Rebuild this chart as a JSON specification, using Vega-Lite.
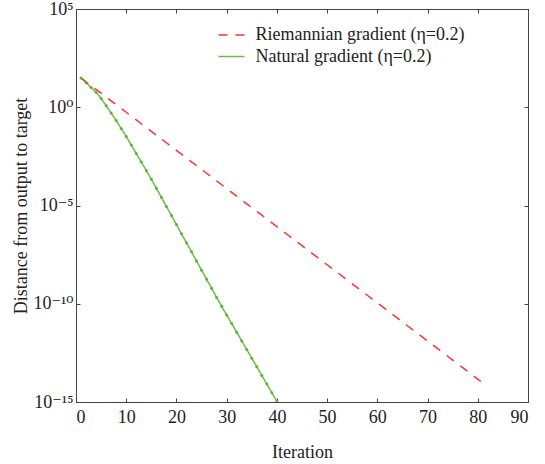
{
  "$schema": "https://vega.github.io/schema/vega-lite/v6.json",
  "width": 452,
  "height": 393,
  "autosize": {"type": "none"},
  "padding": {"left": 76, "top": 9, "right": 17, "bottom": 62},
  "background": "white",
  "config": {
    "font": "Liberation Serif, Times New Roman, DejaVu Serif, serif",
    "view": {"stroke": "#444444", "strokeWidth": 1},
    "axis": {
      "labelFont": "Liberation Serif, Times New Roman, DejaVu Serif, serif",
      "titleFont": "Liberation Serif, Times New Roman, DejaVu Serif, serif",
      "labelFontSize": 18,
      "titleFontSize": 18,
      "titleFontWeight": "normal",
      "labelColor": "#222222",
      "titleColor": "#222222",
      "domainColor": "#444444",
      "tickColor": "#444444",
      "grid": false,
      "tickSize": -4
    }
  },
  "datasets": {
    "curves": [
      {"method": "Natural", "iter": 1, "value": 30.9},
      {"method": "Natural", "iter": 2, "value": 17.8},
      {"method": "Natural", "iter": 3, "value": 10.2},
      {"method": "Natural", "iter": 4, "value": 5.75},
      {"method": "Natural", "iter": 5, "value": 2.82},
      {"method": "Natural", "iter": 6, "value": 1.2},
      {"method": "Natural", "iter": 7, "value": 0.513},
      {"method": "Natural", "iter": 8, "value": 0.209},
      {"method": "Natural", "iter": 9, "value": 0.0832},
      {"method": "Natural", "iter": 10, "value": 0.0324},
      {"method": "Natural", "iter": 11, "value": 0.012},
      {"method": "Natural", "iter": 12, "value": 4.37e-3},
      {"method": "Natural", "iter": 13, "value": 1.62e-3},
      {"method": "Natural", "iter": 14, "value": 6.03e-4},
      {"method": "Natural", "iter": 15, "value": 2.14e-4},
      {"method": "Natural", "iter": 16, "value": 7.59e-5},
      {"method": "Natural", "iter": 17, "value": 2.63e-5},
      {"method": "Natural", "iter": 18, "value": 8.91e-6},
      {"method": "Natural", "iter": 19, "value": 3.09e-6},
      {"method": "Natural", "iter": 20, "value": 1.07e-6},
      {"method": "Natural", "iter": 21, "value": 3.63e-7},
      {"method": "Natural", "iter": 22, "value": 1.26e-7},
      {"method": "Natural", "iter": 23, "value": 4.37e-8},
      {"method": "Natural", "iter": 24, "value": 1.48e-8},
      {"method": "Natural", "iter": 25, "value": 5.13e-9},
      {"method": "Natural", "iter": 26, "value": 1.78e-9},
      {"method": "Natural", "iter": 27, "value": 6.17e-10},
      {"method": "Natural", "iter": 28, "value": 2.09e-10},
      {"method": "Natural", "iter": 29, "value": 7.41e-11},
      {"method": "Natural", "iter": 30, "value": 2.69e-11},
      {"method": "Natural", "iter": 31, "value": 9.77e-12},
      {"method": "Natural", "iter": 32, "value": 3.55e-12},
      {"method": "Natural", "iter": 33, "value": 1.29e-12},
      {"method": "Natural", "iter": 34, "value": 4.68e-13},
      {"method": "Natural", "iter": 35, "value": 1.7e-13},
      {"method": "Natural", "iter": 36, "value": 6.17e-14},
      {"method": "Natural", "iter": 37, "value": 2.24e-14},
      {"method": "Natural", "iter": 38, "value": 8.13e-15},
      {"method": "Natural", "iter": 39, "value": 2.95e-15},
      {"method": "Natural", "iter": 40, "value": 1.07e-15},
      {"method": "Riemannian", "iter": 1, "value": 30.9},
      {"method": "Riemannian", "iter": 2, "value": 19.8},
      {"method": "Riemannian", "iter": 3, "value": 12.6},
      {"method": "Riemannian", "iter": 4, "value": 8.09},
      {"method": "Riemannian", "iter": 5, "value": 5.18},
      {"method": "Riemannian", "iter": 6, "value": 3.31},
      {"method": "Riemannian", "iter": 7, "value": 2.12},
      {"method": "Riemannian", "iter": 8, "value": 1.36},
      {"method": "Riemannian", "iter": 9, "value": 0.867},
      {"method": "Riemannian", "iter": 10, "value": 0.555},
      {"method": "Riemannian", "iter": 11, "value": 0.355},
      {"method": "Riemannian", "iter": 12, "value": 0.227},
      {"method": "Riemannian", "iter": 13, "value": 0.145},
      {"method": "Riemannian", "iter": 14, "value": 0.0929},
      {"method": "Riemannian", "iter": 15, "value": 0.0594},
      {"method": "Riemannian", "iter": 16, "value": 0.038},
      {"method": "Riemannian", "iter": 17, "value": 0.0243},
      {"method": "Riemannian", "iter": 18, "value": 0.0156},
      {"method": "Riemannian", "iter": 19, "value": 9.95e-3},
      {"method": "Riemannian", "iter": 20, "value": 6.37e-3},
      {"method": "Riemannian", "iter": 21, "value": 4.07e-3},
      {"method": "Riemannian", "iter": 22, "value": 2.61e-3},
      {"method": "Riemannian", "iter": 23, "value": 1.67e-3},
      {"method": "Riemannian", "iter": 24, "value": 1.07e-3},
      {"method": "Riemannian", "iter": 25, "value": 6.82e-4},
      {"method": "Riemannian", "iter": 26, "value": 4.37e-4},
      {"method": "Riemannian", "iter": 27, "value": 2.79e-4},
      {"method": "Riemannian", "iter": 28, "value": 1.79e-4},
      {"method": "Riemannian", "iter": 29, "value": 1.14e-4},
      {"method": "Riemannian", "iter": 30, "value": 7.31e-5},
      {"method": "Riemannian", "iter": 31, "value": 4.68e-5},
      {"method": "Riemannian", "iter": 32, "value": 2.99e-5},
      {"method": "Riemannian", "iter": 33, "value": 1.91e-5},
      {"method": "Riemannian", "iter": 34, "value": 1.22e-5},
      {"method": "Riemannian", "iter": 35, "value": 7.83e-6},
      {"method": "Riemannian", "iter": 36, "value": 5.01e-6},
      {"method": "Riemannian", "iter": 37, "value": 3.21e-6},
      {"method": "Riemannian", "iter": 38, "value": 2.05e-6},
      {"method": "Riemannian", "iter": 39, "value": 1.31e-6},
      {"method": "Riemannian", "iter": 40, "value": 8.39e-7},
      {"method": "Riemannian", "iter": 41, "value": 5.37e-7},
      {"method": "Riemannian", "iter": 42, "value": 3.44e-7},
      {"method": "Riemannian", "iter": 43, "value": 2.2e-7},
      {"method": "Riemannian", "iter": 44, "value": 1.41e-7},
      {"method": "Riemannian", "iter": 45, "value": 8.99e-8},
      {"method": "Riemannian", "iter": 46, "value": 5.75e-8},
      {"method": "Riemannian", "iter": 47, "value": 3.68e-8},
      {"method": "Riemannian", "iter": 48, "value": 2.36e-8},
      {"method": "Riemannian", "iter": 49, "value": 1.51e-8},
      {"method": "Riemannian", "iter": 50, "value": 9.64e-9},
      {"method": "Riemannian", "iter": 51, "value": 6.17e-9},
      {"method": "Riemannian", "iter": 52, "value": 3.94e-9},
      {"method": "Riemannian", "iter": 53, "value": 2.52e-9},
      {"method": "Riemannian", "iter": 54, "value": 1.61e-9},
      {"method": "Riemannian", "iter": 55, "value": 1.03e-9},
      {"method": "Riemannian", "iter": 56, "value": 6.61e-10},
      {"method": "Riemannian", "iter": 57, "value": 4.23e-10},
      {"method": "Riemannian", "iter": 58, "value": 2.7e-10},
      {"method": "Riemannian", "iter": 59, "value": 1.73e-10},
      {"method": "Riemannian", "iter": 60, "value": 1.11e-10},
      {"method": "Riemannian", "iter": 61, "value": 7.08e-11},
      {"method": "Riemannian", "iter": 62, "value": 4.53e-11},
      {"method": "Riemannian", "iter": 63, "value": 2.9e-11},
      {"method": "Riemannian", "iter": 64, "value": 1.85e-11},
      {"method": "Riemannian", "iter": 65, "value": 1.19e-11},
      {"method": "Riemannian", "iter": 66, "value": 7.59e-12},
      {"method": "Riemannian", "iter": 67, "value": 4.85e-12},
      {"method": "Riemannian", "iter": 68, "value": 3.1e-12},
      {"method": "Riemannian", "iter": 69, "value": 1.99e-12},
      {"method": "Riemannian", "iter": 70, "value": 1.27e-12},
      {"method": "Riemannian", "iter": 71, "value": 8.13e-13},
      {"method": "Riemannian", "iter": 72, "value": 5.2e-13},
      {"method": "Riemannian", "iter": 73, "value": 3.33e-13},
      {"method": "Riemannian", "iter": 74, "value": 2.13e-13},
      {"method": "Riemannian", "iter": 75, "value": 1.36e-13},
      {"method": "Riemannian", "iter": 76, "value": 8.71e-14},
      {"method": "Riemannian", "iter": 77, "value": 5.57e-14},
      {"method": "Riemannian", "iter": 78, "value": 3.56e-14},
      {"method": "Riemannian", "iter": 79, "value": 2.28e-14},
      {"method": "Riemannian", "iter": 80, "value": 1.46e-14},
      {"method": "Riemannian", "iter": 81, "value": 9.33e-15}
    ]
  },
  "data": {"name": "curves"},
  "layer": [
    {
      "mark": {"type": "line", "strokeWidth": 1.5, "clip": true},
      "encoding": {
        "x": {
          "field": "iter", "type": "quantitative", "title": "Iteration",
          "scale": {"domain": [0, 90], "nice": false},
          "axis": {"orient": "bottom", "values": [0, 10, 20, 30, 40, 50, 60, 70, 80, 90], "labelPadding": 10, "titlePadding": 17}
        },
        "y": {
          "field": "value", "type": "quantitative", "title": "Distance from output to target",
          "scale": {"type": "log", "domain": [1e-15, 100000], "nice": false},
          "axis": {
            "orient": "left",
            "values": [1e-15, 1e-10, 1e-5, 1, 100000],
            "labelPadding": 7,
            "labelExpr": "datum.value > 10 ? '10⁵' : datum.value > 0.1 ? '10⁰' : datum.value > 1e-7 ? '10⁻⁵' : datum.value > 1e-12 ? '10⁻¹⁰' : '10⁻¹⁵'",
            "titlePadding": 2
          }
        },
        "color": {
          "field": "method", "type": "nominal", "title": null,
          "scale": {"domain": ["Riemannian", "Natural"], "range": ["#ff3333", "#6cbf45"]},
          "legend": {
            "orient": "none", "legendX": 144.5, "legendY": 15,
            "padding": 0, "rowPadding": 1.5,
            "symbolType": "M-1.3,0L1.3,0", "symbolSize": 400, "symbolStrokeWidth": 1.5,
            "labelOffset": 13, "labelFontSize": 18, "labelLimit": 400,
            "labelFont": "Liberation Serif, Times New Roman, DejaVu Serif, serif", "labelColor": "#222222",
            "labelExpr": "datum.label == 'Riemannian' ? 'Riemannian gradient (η=0.2)' : 'Natural gradient (η=0.2)'"
          }
        },
        "strokeDash": {
          "field": "method", "type": "nominal", "title": null,
          "scale": {"domain": ["Riemannian", "Natural"], "range": [[9, 8], [1, 0]]}
        }
      }
    },
    {
      "transform": [{"filter": "datum.method == 'Natural'"}],
      "mark": {"type": "point", "filled": true, "size": 9, "color": "#5fb03a", "opacity": 1, "clip": true},
      "encoding": {
        "x": {
          "field": "iter", "type": "quantitative",
          "axis": {"orient": "top", "values": [0, 10, 20, 30, 40, 50, 60, 70, 80, 90], "labels": false, "title": null}
        },
        "y": {
          "field": "value", "type": "quantitative",
          "axis": {"orient": "right", "values": [1e-15, 1e-10, 1e-5, 1, 100000], "labels": false, "title": null}
        }
      }
    }
  ],
  "resolve": {"axis": {"x": "independent", "y": "independent"}}
}
